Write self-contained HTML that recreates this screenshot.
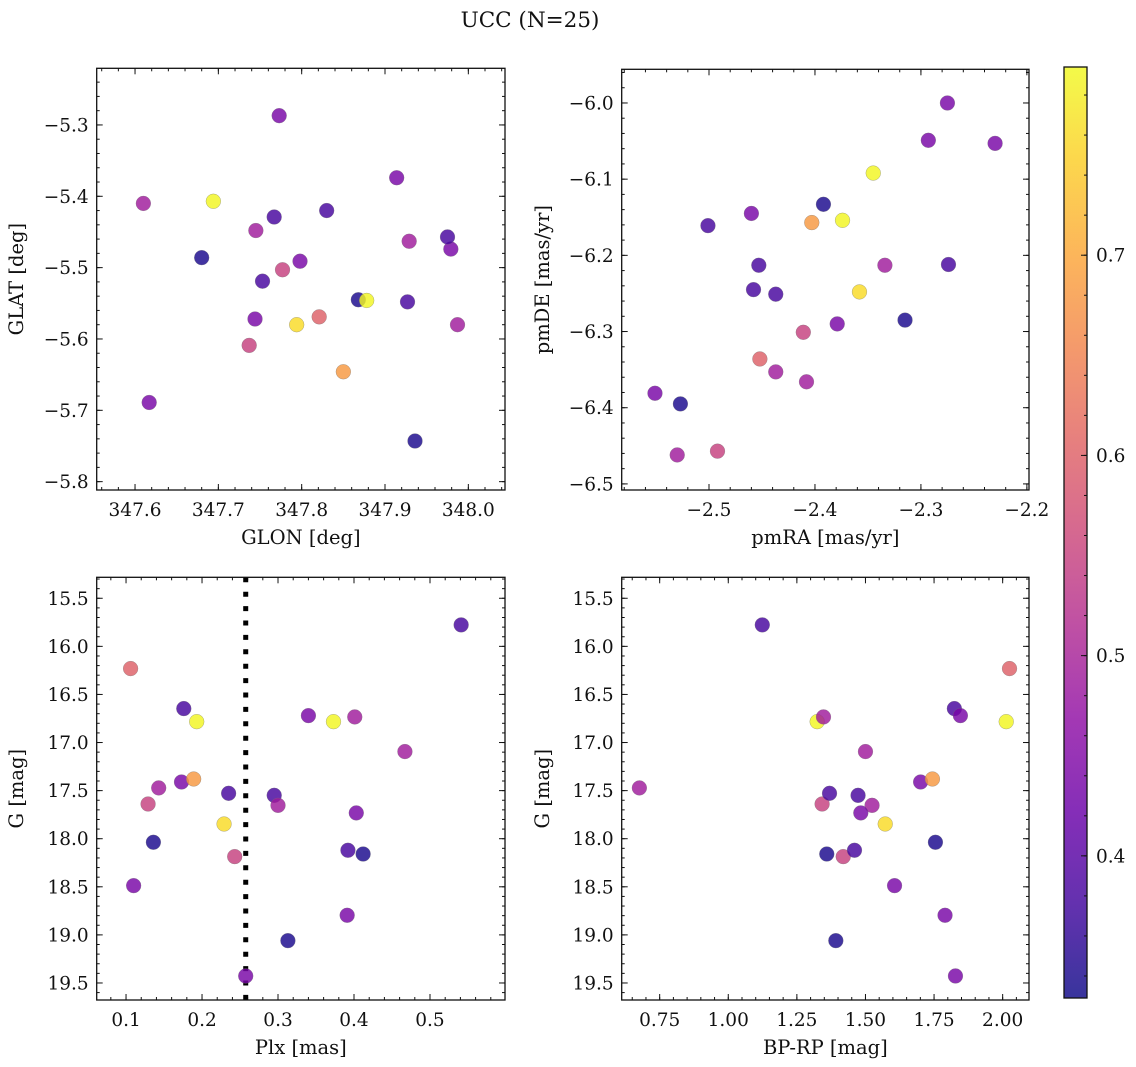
<!DOCTYPE html>
<html><head><meta charset="utf-8"><style>
html,body{margin:0;padding:0;background:#fff;}
svg{display:block;font-family:"DejaVu Serif","Liberation Serif",serif;}
</style></head><body>
<svg id="fig" width="1136" height="1067" viewBox="0 0 1136 1067" xmlns="http://www.w3.org/2000/svg">
<text x="530" y="27" font-size="21.5" text-anchor="middle" fill="#111">UCC (N=25)</text>
</svg>
<script>
// Star data (one entry per star)
const glon = [347.821,347.617,347.737,347.680,347.610,347.744,347.753,347.850,347.694,347.794,347.767,347.777,347.773,347.830,347.745,347.868,347.798,347.878,347.914,347.927,347.929,347.979,347.936,347.987,347.975];
const glat = [-5.569,-5.689,-5.609,-5.486,-5.410,-5.572,-5.519,-5.646,-5.407,-5.580,-5.429,-5.503,-5.287,-5.420,-5.448,-5.545,-5.491,-5.546,-5.374,-5.548,-5.463,-5.474,-5.743,-5.580,-5.457];
const pmra = [-2.452,-2.551,-2.492,-2.527,-2.530,-2.460,-2.501,-2.403,-2.374,-2.358,-2.453,-2.411,-2.379,-2.458,-2.408,-2.392,-2.293,-2.345,-2.275,-2.437,-2.334,-2.230,-2.315,-2.437,-2.274];
const pmde = [-6.336,-6.381,-6.457,-6.395,-6.462,-6.145,-6.161,-6.157,-6.154,-6.248,-6.213,-6.301,-6.290,-6.245,-6.366,-6.133,-6.049,-6.092,-6.000,-6.251,-6.213,-6.053,-6.285,-6.353,-6.212];
const plx = [0.106,0.110,0.129,0.136,0.143,0.173,0.176,0.189,0.193,0.229,0.235,0.243,0.2575,0.295,0.300,0.313,0.340,0.373,0.391,0.392,0.401,0.403,0.412,0.467,0.541];
const gmag = [16.231,18.488,17.639,18.037,17.472,17.410,16.647,17.379,16.783,17.847,17.528,18.186,19.427,17.549,17.653,19.060,16.720,16.783,18.796,18.120,16.734,17.732,18.159,17.094,15.777];
const bprp = [2.025,1.606,1.342,1.755,0.676,1.701,1.824,1.744,1.324,1.572,1.369,1.419,1.828,1.473,1.524,1.392,1.846,2.013,1.790,1.460,1.347,1.483,1.359,1.500,1.124];
const prob = [0.60,0.44,0.55,0.34,0.49,0.44,0.38,0.68,0.79,0.76,0.38,0.55,0.44,0.38,0.49,0.34,0.44,0.79,0.44,0.38,0.49,0.44,0.34,0.49,0.38];
const plxCut = 0.2575;
// Tick labels
const ticks1x = [347.6,347.7,347.8,347.9,348.0];
const ticks1y = [-5.3,-5.4,-5.5,-5.6,-5.7,-5.8];
const ticks2x = [-2.5,-2.4,-2.3,-2.2];
const ticks2y = [-6.0,-6.1,-6.2,-6.3,-6.4,-6.5];
const ticks3x = [0.1,0.2,0.3,0.4,0.5];
const ticksG = [15.5,16.0,16.5,17.0,17.5,18.0,18.5,19.0,19.5];
const ticks4x = [0.75,1.00,1.25,1.50,1.75,2.00];
const ticksCb = [0.4,0.5,0.6,0.7];

const NS='http://www.w3.org/2000/svg';
const svg=document.getElementById('fig');
function el(tag,attrs,parent){const e=document.createElementNS(NS,tag);for(const k in attrs)e.setAttribute(k,attrs[k]);(parent||svg).appendChild(e);return e;}

const stops=[[13,8,135],[65,4,157],[106,0,168],[143,13,164],[177,42,144],[204,71,120],[225,100,98],[242,132,75],[252,166,54],[252,206,37],[240,249,33]];
function plasma(t){t=Math.max(0,Math.min(1,t));const f=t*10,i=Math.min(9,Math.floor(f)),r=f-i;const a=stops[i],b=stops[i+1];
return 'rgb('+[0,1,2].map(k=>Math.round(a[k]+(b[k]-a[k])*r)).join(',')+')';}
const vmin=0.329,vmax=0.794;
const TFS=18.5, LFS=19.5;

function lin(d0,d1,p0,p1){return v=>p0+(v-d0)/(d1-d0)*(p1-p0);}

function panel(cfg){
  const g=el('g',{});
  
  
  const {L,R,T,B}=cfg;
  const sx=lin(cfg.xlim[0],cfg.xlim[1],L,R), sy=lin(cfg.ylim[0],cfg.ylim[1],B,T);
  const tk=el('g',{stroke:'#111','stroke-width':1},g);
  
  
  function xt(v,len){const x=sx(v);if(x<L-0.5||x>R+0.5)return;el('line',{x1:x,x2:x,y1:B,y2:B-len},tk);el('line',{x1:x,x2:x,y1:T,y2:T+len},tk);}
  function yt(v,len){const y=sy(v);if(y<T-0.5||y>B+0.5)return;el('line',{x1:L,x2:L+len,y1:y,y2:y},tk);el('line',{x1:R,x2:R-len,y1:y,y2:y},tk);}
  for(let v=Math.ceil(Math.min(...cfg.xlim)/cfg.xminor)*cfg.xminor;v<=Math.max(...cfg.xlim);v+=cfg.xminor)xt(v,3);
  for(let v=Math.ceil(Math.min(...cfg.ylim)/cfg.yminor)*cfg.yminor;v<=Math.max(...cfg.ylim);v+=cfg.yminor)yt(v,3);
  cfg.xt.forEach(v=>xt(v,6));cfg.yt.forEach(v=>yt(v,6));
  cfg.xt.forEach(v=>{const t=el('text',{x:sx(v),y:B+26,'font-size':TFS,'text-anchor':'middle',fill:'#111'},g);t.textContent=cfg.xfmt(v);
    });
  cfg.yt.forEach(v=>{const t=el('text',{x:L-8,y:sy(v)+6.5,'font-size':TFS,'text-anchor':'end',fill:'#111'},g);t.textContent=cfg.yfmt(v);
    });
  const xl=el('text',{x:(L+R)/2,y:B+54,'font-size':LFS,'text-anchor':'middle',fill:'#111'},g);xl.textContent=cfg.xlabel;
  
  const yl=el('text',{x:0,y:0,'font-size':LFS,'text-anchor':'middle',fill:'#111',transform:'translate('+(cfg.ylx)+','+((T+B)/2)+') rotate(-90)'},g);yl.textContent=cfg.ylabel;
  
  if(cfg.vline!==undefined){const x=sx(cfg.vline);const vl=el('line',{x1:x,x2:x,y1:T,y2:B,stroke:'#000','stroke-width':5,'stroke-dasharray':'5,9.4'},g);
    }
  const pts=el('g',{},g);
  
  cfg.xs.forEach((xv,i)=>{
    const c=el('circle',{cx:sx(xv),cy:sy(cfg.ys[i]),r:7.4,fill:plasma((prob[i]-vmin)/(vmax-vmin)),'fill-opacity':0.82,stroke:'#777','stroke-opacity':0.6,'stroke-width':0.5},pts);
    
    
  });
  const fr=el('rect',{x:L,y:T,width:R-L,height:B-T,fill:'none',stroke:'#111','stroke-width':1.3},g);
  
}
const f1=v=>v.toFixed(1).replace('-','\u2212');
const f2=v=>v.toFixed(2);
panel({name:'glon-glat-panel',L:96.7,R:505,T:68.3,B:490,xlim:[347.554,348.044],ylim:[-5.8117,-5.2206],xminor:0.02,yminor:0.02,xt:ticks1x,yt:ticks1y,xfmt:f1,yfmt:f1,xlabel:'GLON [deg]',ylabel:'GLAT [deg]',ylx:23,xs:glon,ys:glat});
panel({name:'pm-panel',L:621.7,R:1029,T:69.3,B:490,xlim:[-2.5824,-2.198],ylim:[-6.508,-5.9558],xminor:0.02,yminor:0.02,xt:ticks2x,yt:ticks2y,xfmt:f1,yfmt:f1,xlabel:'pmRA [mas/yr]',ylabel:'pmDE [mas/yr]',ylx:549,xs:pmra,ys:pmde});
panel({name:'plx-g-panel',L:96.7,R:505,T:577.3,B:1000,xlim:[0.0614,0.5987],ylim:[19.677,15.282],xminor:0.02,yminor:0.1,xt:ticks3x,yt:ticksG,xfmt:f1,yfmt:f1,xlabel:'Plx [mas]',ylabel:'G [mag]',ylx:23,xs:plx,ys:gmag,vline:plxCut});
panel({name:'cmd-panel',L:621.7,R:1029,T:577.3,B:1000,xlim:[0.6116,2.096],ylim:[19.677,15.282],xminor:0.05,yminor:0.1,xt:ticks4x,yt:ticksG,xfmt:f2,yfmt:f1,xlabel:'BP-RP [mag]',ylabel:'G [mag]',ylx:549,xs:bprp,ys:gmag});

// colorbar
const cb=el('g',{});


const defs=el('defs',{},cb);
const lg=el('linearGradient',{id:'cbg',x1:0,y1:1,x2:0,y2:0},defs);
for(let i=0;i<=20;i++){el('stop',{offset:(i/20),'stop-color':plasma(i/20),'stop-opacity':0.82},lg);}
const CL=1064,CR=1087,CT=67,CB=998;
el('rect',{x:CL,y:CT,width:CR-CL,height:CB-CT,fill:'url(#cbg)'},cb);
const cy=lin(vmin,vmax,CB,CT);
for(let v=0.34;v<vmax;v+=0.02){el('line',{x1:CR,x2:CR-3,y1:cy(v),y2:cy(v),stroke:'#111','stroke-width':1},cb);}
ticksCb.forEach(v=>{el('line',{x1:CR,x2:CR-6,y1:cy(v),y2:cy(v),stroke:'#111','stroke-width':1},cb);
  const t=el('text',{x:CR+9,y:cy(v)+6.5,'font-size':TFS,fill:'#111'},cb);t.textContent=v.toFixed(1);
  });
el('rect',{x:CL,y:CT,width:CR-CL,height:CB-CT,fill:'none',stroke:'#111','stroke-width':1.3},cb);
</script>
</body></html>
